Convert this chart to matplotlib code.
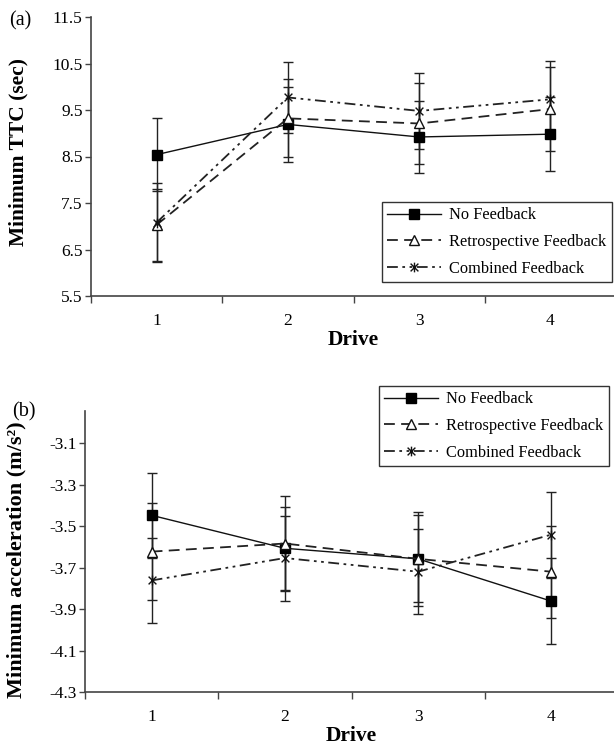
import matplotlib
matplotlib.use("Agg")
import matplotlib.pyplot as plt
from matplotlib.path import Path
import numpy as np

plt.rcParams['font.family'] = ['Liberation Serif', 'DejaVu Serif']

drives = [1, 2, 3, 4]
series_names = ["No Feedback", "Retrospective Feedback", "Combined Feedback"]

# Panel (a): Minimum TTC (sec)
ttc_nf = [8.54, 9.19, 8.92, 8.98]
ttc_nf_err = [0.78, 0.80, 0.78, 0.79]
ttc_retro = [7.03, 9.32, 9.21, 9.52]
ttc_retro_err = [0.77, 0.84, 0.87, 0.90]
ttc_comb = [7.08, 9.77, 9.48, 9.73]
ttc_comb_err = [0.84, 0.77, 0.81, 0.82]
ttc_ticks = [5.5, 6.5, 7.5, 8.5, 9.5, 10.5, 11.5]

# Panel (b): Minimum acceleration (m/s^2)
acc_nf = [-3.448, -3.607, -3.658, -3.862]
acc_nf_err = [0.204, 0.200, 0.210, 0.206]
acc_retro = [-3.623, -3.584, -3.658, -3.720]
acc_retro_err = [0.233, 0.227, 0.226, 0.222]
acc_comb = [-3.762, -3.654, -3.720, -3.541]
acc_comb_err = [0.206, 0.205, 0.205, 0.207]
acc_ticks = [-4.3, -4.1, -3.9, -3.7, -3.5, -3.3, -3.1]

star = Path([(-1, -1), (1, 1), (-1, 1), (1, -1), (0, -1.25), (0, 1.25)],
            [Path.MOVETO, Path.LINETO, Path.MOVETO, Path.LINETO, Path.MOVETO, Path.LINETO])

styles = [
    dict(linestyle='-', marker='s', markersize=6.5, markerfacecolor='black',
         markeredgecolor='black', color='#111111', linewidth=1.0),
    dict(linestyle=(0, (6, 3.5)), marker='^', markersize=7.5, markerfacecolor='white',
         markeredgecolor='#111111', color='#222222', linewidth=1.3),
    dict(linestyle=(0, (6, 2.5, 1.5, 2.5, 1.5, 2.5)), marker=star, markersize=7,
         markerfacecolor='none', markeredgecolor='#111111', markeredgewidth=1.0,
         color='#222222', linewidth=1.3),
]

fig = plt.figure(figsize=(6.14, 7.48), dpi=100)
ax1 = fig.add_axes([91/614, 1-296/748, (616-91)/614, (296-17)/748])
ax2 = fig.add_axes([85/614, 1-692/748, (618-85)/614, (692-411)/748])


def draw(ax, data, errs, ticks, ylim, ylabel, ylabel_size, ylabel_xy, legend_anchor):
    handles = []
    for vals, err, st, name in zip(data, errs, styles, series_names):
        ax.errorbar(drives, vals, yerr=err, fmt='none', ecolor='#222222',
                    elinewidth=1.0, capsize=3.5, capthick=1.0, zorder=2)
        h, = ax.plot(drives, vals, label=name, zorder=3, **st)
        handles.append(h)
    ax.set_xlim(0.5, 4.5)
    ax.set_ylim(*ylim)
    ax.set_yticks(ticks)
    ax.set_yticklabels([f"{t:.1f}" for t in ticks])
    ax.set_xticks([0.5, 1.5, 2.5, 3.5, 4.5])
    ax.set_xticklabels([])
    ax.set_xticks(drives, minor=True)
    ax.set_xticklabels([str(d) for d in drives], minor=True)
    ax.tick_params(axis='x', which='major', direction='out', length=5, width=1, color='#444444')
    ax.tick_params(axis='x', which='minor', length=0, pad=12, labelsize=12.5)
    ax.tick_params(axis='y', direction='out', length=4, width=1, color='#444444',
                   labelsize=12.5, pad=2)
    for s in ['top', 'right']:
        ax.spines[s].set_visible(False)
    for s in ['left', 'bottom']:
        ax.spines[s].set_color('#444444')
        ax.spines[s].set_linewidth(1.2)
    ax.set_xlabel("Drive", fontsize=15.5, fontweight='bold', labelpad=1)
    ax.set_ylabel(ylabel, fontsize=ylabel_size, fontweight='bold')
    ax.yaxis.set_label_coords(*ylabel_xy)
    leg = fig.legend(handles=handles, loc='upper left', bbox_to_anchor=legend_anchor,
                     bbox_transform=fig.transFigure, frameon=True, fancybox=False,
                     edgecolor='black', fontsize=11.8, handlelength=3.3,
                     labelspacing=0.65, borderpad=0.33, handletextpad=0.45,
                     borderaxespad=0)
    leg.get_frame().set_linewidth(1.0)
    return leg


draw(ax1, [ttc_nf, ttc_retro, ttc_comb], [ttc_nf_err, ttc_retro_err, ttc_comb_err],
     ttc_ticks, (5.5, 11.5), "Minimum TTC (sec)", 15.5, (-0.12, 0.515),
     (382/614, 1-202/748))
draw(ax2, [acc_nf, acc_retro, acc_comb], [acc_nf_err, acc_retro_err, acc_comb_err],
     acc_ticks, (-4.3, -2.945), "Minimum acceleration (m/s²)", 16, (-0.11, 0.47),
     (379/614, 1-386/748))

fig.text(9/614, 1-25/748, "(a)", fontsize=14.5)
fig.text(12/614, 1-416/748, "(b)", fontsize=14.5)

fig.savefig("out.png", dpi=100)
